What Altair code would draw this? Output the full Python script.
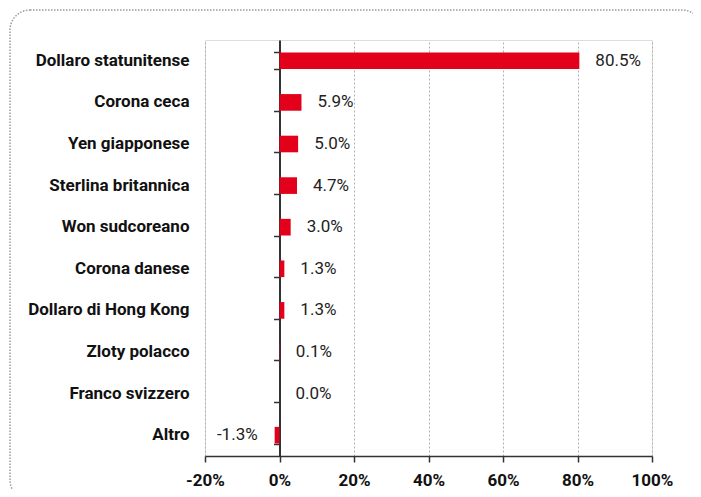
import altair as alt
import pandas as pd

categories = ["Dollaro statunitense", "Corona ceca", "Yen giapponese", "Sterlina britannica",
              "Won sudcoreano", "Corona danese", "Dollaro di Hong Kong", "Zloty polacco",
              "Franco svizzero", "Altro"]
values = [80.5, 5.9, 5.0, 4.7, 3.0, 1.3, 1.3, 0.1, 0.0, -1.3]
x_ticks = [-20, 0, 20, 40, 60, 80, 100]

df = pd.DataFrame({"currency": categories, "value": values})
df["zero"] = 0.0
df["label"] = [f"{v:.1f}%" for v in values]

W, H = 447, 416
FONT = "Roboto"
RED = "#E2001A"

xscale = alt.Scale(domain=[-20, 100], nice=False, zero=False)
yscale = alt.Scale(domain=categories, paddingInner=0.6, paddingOuter=0.3)

x_axis = alt.Axis(values=x_ticks, labelExpr="datum.value + '%'",
                  grid=True, gridDash=[2, 2], gridColor="#b0b0b0", gridWidth=1,
                  domain=True, domainColor="#333333", domainWidth=1.5,
                  ticks=True, tickColor="#333333", tickSize=6, tickWidth=1.5,
                  labelFont=FONT, labelFontSize=17, labelFontWeight="bold",
                  labelColor="#111111", labelPadding=10, labelFlush=False)

base = alt.Chart(df)

bars = base.mark_bar(color=RED).encode(
    x=alt.X("value:Q", scale=xscale, title=None, axis=x_axis),
    x2="zero:Q",
    y=alt.Y("currency:N", sort=None, scale=yscale, title=None,
            axis=alt.Axis(domain=False, ticks=False, grid=False,
                          labelFont=FONT, labelFontSize=17, labelFontWeight="bold",
                          labelColor="#111111", labelPadding=16, labelLimit=400)),
)

zero_axis = base.mark_bar(opacity=0).encode(
    x=alt.X("value:Q", scale=xscale, title=None, axis=x_axis),
    x2="zero:Q",
    y=alt.Y("currency:N", sort=None, scale=yscale, title=None,
            axis=alt.Axis(orient="left", offset=-W * 20 / 120, labels=False,
                          domain=True, domainColor="#333333", domainWidth=2,
                          ticks=True, tickBand="extent", tickSize=6, tickWidth=1.5,
                          tickColor="#333333", grid=False)),
)

pos_labels = base.transform_filter("datum.value >= 0").mark_text(
    align="left", baseline="middle", dx=16, font=FONT, fontSize=17, color="#222222"
).encode(
    x=alt.X("value:Q", scale=xscale, title=None, axis=x_axis),
    y=alt.Y("currency:N", sort=None, scale=yscale, axis=None),
    text="label:N",
)

neg_labels = base.transform_filter("datum.value < 0").mark_text(
    align="right", baseline="middle", dx=-17, font=FONT, fontSize=17, color="#222222"
).encode(
    x=alt.X("value:Q", scale=xscale, title=None, axis=x_axis),
    y=alt.Y("currency:N", sort=None, scale=yscale, axis=None),
    text="label:N",
)

border = alt.Chart(pd.DataFrame({"k": [0]})).mark_rect(
    fill=None, stroke="#9a9a9a", strokeWidth=1.5, strokeDash=[1.5, 1.5],
    cornerRadius=20, clip=False
).encode(
    x=alt.value(-195), x2=alt.value(497), y=alt.value(-30), y2=alt.value(460)
)

chart = alt.layer(border, bars, zero_axis, pos_labels, neg_labels).resolve_axis(
    y="independent"
).properties(
    width=W, height=H,
    autosize=alt.AutoSizeParams(type="none"),
    padding={"left": 197, "top": 32, "right": 41, "bottom": 33},
).configure_view(strokeWidth=0).configure(background="white")

chart.save("out.html", embed_options={"renderer": "svg", "actions": False})
